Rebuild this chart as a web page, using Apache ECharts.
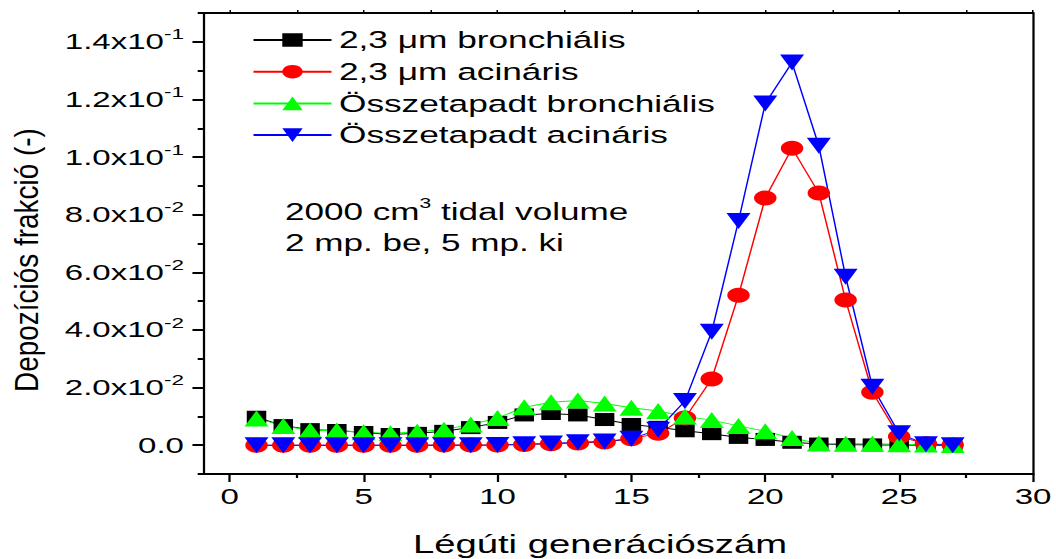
<!DOCTYPE html>
<html>
<head>
<meta charset="utf-8">
<script src="https://cdn.jsdelivr.net/npm/echarts@6/dist/echarts.min.js"></script>
<style>
html,body{margin:0;padding:0;overflow:hidden;background:#fff;}
#chart{width:704px;height:559px;transform:scaleX(1.5);transform-origin:0 0;}
</style>
</head>
<body>
<div id="chart"></div>
<script>
// ---- data ----
const generations = [1,2,3,4,5,6,7,8,9,10,11,12,13,14,15,16,17,18,19,20,21,22,23,24,25,26,27];
const seriesNames = ['2,3 \u03bcm bronchiális', '2,3 \u03bcm acináris', 'Összetapadt bronchiális', 'Összetapadt acináris'];
const bronch23 = [0.0097,0.0068,0.0054,0.0051,0.0044,0.0037,0.0041,0.0048,0.0061,0.0079,0.0105,0.0110,0.0105,0.0089,0.0072,0.0062,0.0050,0.0040,0.0027,0.0020,0.0010,0.0004,0.0002,0.0001,0.0001,0.0000,0.0000];
const acin23   = [0.0000,0.0000,0.0000,0.0000,0.0000,0.0000,0.0000,0.0001,0.0001,0.0001,0.0002,0.0005,0.0008,0.0011,0.0022,0.0041,0.0094,0.0230,0.0520,0.0858,0.1031,0.0875,0.0504,0.0184,0.0030,0.0005,0.0001];
const bronchAgg = [0.0093,0.0067,0.0051,0.0051,0.0045,0.0041,0.0047,0.0054,0.0072,0.0094,0.0132,0.0149,0.0155,0.0145,0.0130,0.0119,0.0100,0.0087,0.0067,0.0048,0.0025,0.0006,0.0005,0.0005,0.0003,0.0002,0.0001];
const acinAgg  = [0.0000,0.0000,0.0000,0.0000,0.0000,0.0000,0.0000,0.0000,0.0000,0.0001,0.0003,0.0006,0.0010,0.0013,0.0022,0.0054,0.0153,0.0394,0.0778,0.1186,0.1328,0.1039,0.0585,0.0203,0.0041,0.0003,0.0000];
const xMajorTicks = [0,5,10,15,20,25,30];
const xMinorTicks = [2.5,7.5,12.5,17.5,22.5,27.5];
const xTopTicks = [0,2.5,5,7.5,10,12.5,15,17.5,20,22.5,25,27.5,30];
const yMajorTicks = [0,0.02,0.04,0.06,0.08,0.10,0.12,0.14];
const yMinorTicks = [-0.01,0.01,0.03,0.05,0.07,0.09,0.11,0.13,0.15];
const xTitle = 'Légúti generációszám';
const yTitle = 'Depozíciós frakció (-)';
const noteLines = ['2000 cm', '3', ' tidal volume', '2 mp. be, 5 mp. ki'];

const FONT = '"Liberation Sans", Arial, sans-serif';
const chart = echarts.init(document.getElementById('chart'), null, {renderer: 'svg'});

function pair(arr){ return generations.map((g,i)=>[g, arr[i]]); }
function yFmt(v){
  if (Math.abs(v) < 1e-12) return '{n|0.0}';
  const e = Math.floor(Math.log10(v) + 1e-9);
  const m = v / Math.pow(10, e);
  return '{n|' + m.toFixed(1) + 'x10}{s|' + e + '}';
}

const colors = ['#000000', '#ff0000', '#00ff00', '#0000ff'];
const symbols = ['rect', 'circle', 'triangle', 'triangle'];
const sizes = [13, 15, 16, 16];
const rotates = [0, 0, 0, 180];
const datasets = [bronch23, acin23, bronchAgg, acinAgg];

const series = datasets.map((d, i) => ({
  name: seriesNames[i],
  type: 'line',
  xAxisIndex: 0,
  yAxisIndex: 0,
  data: pair(d),
  symbol: symbols[i],
  symbolSize: sizes[i],
  symbolRotate: rotates[i],
  showAllSymbol: true,
  lineStyle: {color: colors[i], width: 1},
  itemStyle: {color: colors[i]},
  emphasis: {disabled: true}
}));

chart.setOption({
  animation: false,
  backgroundColor: '#ffffff',
  textStyle: {fontFamily: FONT},
  grid: {left: 135.3, right: 15.3, top: 13, bottom: 85, containLabel: false, outerBoundsMode: 'none'},
  title: {
    text: '{a|' + noteLines[0] + '}{s|' + noteLines[1] + '}{a|' + noteLines[2] + '}\n{a|' + noteLines[3] + '}',
    left: 190, top: 196, padding: 0,
    textStyle: {
      fontFamily: FONT, color: '#000', fontWeight: 'normal', lineHeight: 31,
      rich: {
        a: {fontFamily: FONT, fontSize: 23.4, color: '#000', lineHeight: 31},
        s: {fontFamily: FONT, fontSize: 14, color: '#000', lineHeight: 18, verticalAlign: 'top'}
      }
    }
  },
  legend: {
    orient: 'vertical', left: 168, top: 27, padding: 0,
    itemWidth: 52, itemHeight: 17, itemGap: 5.7,
    textStyle: {fontFamily: FONT, fontSize: 23.5, color: '#000', lineHeight: 26},
    data: seriesNames
  },
  graphic: [{
    type: 'text',
    x: 17.5, y: 260,
    rotation: Math.PI / 2,
    scaleX: 1.27,
    style: {
      text: yTitle, fontFamily: FONT, fontSize: 22, fill: '#000',
      align: 'center', verticalAlign: 'middle'
    }
  }],
  xAxis: [
    {
      type: 'value', min: -1, max: 30, position: 'bottom',
      axisLine: {show: true, onZero: false, lineStyle: {color: '#000', width: 2}},
      axisTick: {show: true, length: 8, customValues: xMajorTicks, lineStyle: {color: '#000', width: 1.5}},
      axisLabel: {customValues: xMajorTicks, margin: 12, fontSize: 22, color: '#000', fontFamily: FONT},
      splitLine: {show: false},
      name: xTitle, nameLocation: 'middle', nameGap: 57,
      nameTextStyle: {fontSize: 25.5, color: '#000', fontFamily: FONT, padding: [0, 24, 0, 0]}
    },
    {
      type: 'value', min: -1, max: 30, position: 'bottom',
      axisLine: {show: false, onZero: false},
      axisTick: {show: true, length: 4, customValues: xMinorTicks, lineStyle: {color: '#000', width: 1.5}},
      axisLabel: {show: false}, splitLine: {show: false}
    },
    {
      type: 'value', min: -1, max: 30, position: 'top',
      axisLine: {show: true, onZero: false, lineStyle: {color: '#000', width: 2}},
      axisTick: {show: true, length: 3, customValues: xTopTicks, lineStyle: {color: '#000', width: 1}},
      axisLabel: {show: false}, splitLine: {show: false}
    }
  ],
  yAxis: [
    {
      type: 'value', min: -0.01, max: 0.15, position: 'left',
      axisLine: {show: true, onZero: false, lineStyle: {color: '#000', width: 1.5}},
      axisTick: {show: true, length: 7, customValues: yMajorTicks, lineStyle: {color: '#000', width: 2}},
      axisLabel: {
        customValues: yMajorTicks, margin: 12.7, formatter: yFmt, color: '#000',
        rich: {
          n: {fontFamily: FONT, fontSize: 22, color: '#000', lineHeight: 30},
          s: {fontFamily: FONT, fontSize: 15, color: '#000', lineHeight: 15, verticalAlign: 'top'}
        }
      },
      splitLine: {show: false}
    },
    {
      type: 'value', min: -0.01, max: 0.15, position: 'left',
      axisLine: {show: false, onZero: false},
      axisTick: {show: true, length: 3.5, customValues: yMinorTicks, lineStyle: {color: '#000', width: 2}},
      axisLabel: {show: false}, splitLine: {show: false}
    },
    {
      type: 'value', min: -0.01, max: 0.15, position: 'right',
      axisLine: {show: true, onZero: false, lineStyle: {color: '#000', width: 1.5}},
      axisTick: {show: false}, axisLabel: {show: false}, splitLine: {show: false}
    }
  ],
  series: series
});
</script>
</body>
</html>
